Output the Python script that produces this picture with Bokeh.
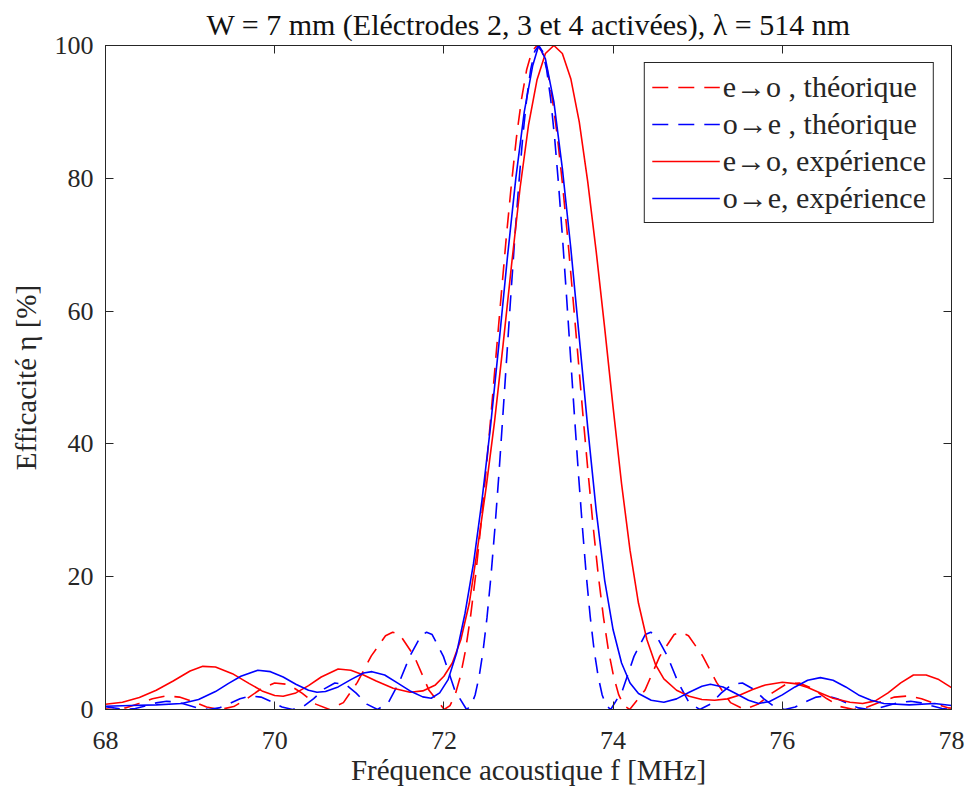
from bokeh.plotting import figure
from bokeh.models import Legend, LegendItem, LinearAxis, FixedTicker, Range1d, CustomJSTickFormatter
from bokeh.embed import file_html
from bokeh.resources import INLINE

FONT = "Liberation Serif"
AX = "#262626"

x_ticks = [68, 70, 72, 74, 76, 78]
y_ticks = [0, 20, 40, 60, 80, 100]

title_text = "W = 7 mm (El\u00e9ctrodes 2, 3 et 4 activ\u00e9es), \u03bb = 514 nm"
x_label = "Fr\u00e9quence acoustique f [MHz]"
y_label = "Efficacit\u00e9 \u03b7 [%]"

# e->o theoretical (red dashed)
red_th_f = [67.916, 68.076, 68.235, 68.395, 68.555, 68.714, 68.874, 69.034, 69.195, 69.355,
            69.516, 69.676, 69.837, 69.999, 70.161, 70.323, 70.485, 70.648, 70.812, 70.977,
            71.142, 71.310, 71.394, 71.478, 71.650, 71.824, 72.004, 72.072, 72.133, 72.193,
            72.254, 72.314, 72.375, 72.435, 72.496, 72.556, 72.616, 72.677, 72.737, 72.798,
            72.858, 72.919, 72.979, 73.040, 73.100, 73.160, 73.221, 73.281, 73.342, 73.402,
            73.463, 73.523, 73.584, 73.644, 73.705, 73.765, 73.825, 73.886, 73.946, 74.007,
            74.067, 74.128, 74.196, 74.376, 74.551, 74.722, 74.806, 74.891, 75.058, 75.223,
            75.388, 75.552, 75.715, 75.877, 76.040, 76.201, 76.363, 76.524, 76.685, 76.845,
            77.006, 77.166, 77.326, 77.486, 77.646, 77.805, 77.965, 78.125]
red_th_eta = [0.22, 0.0, 0.24, 0.89, 1.62, 2.04, 1.87, 1.18, 0.37, 0.0,
              0.44, 1.65, 3.10, 4.00, 3.78, 2.47, 0.81, 0.0, 1.04, 4.08,
              8.08, 11.11, 11.64, 11.29, 8.00, 2.89, 0.0, 0.59, 2.19, 4.92,
              8.81, 13.91, 20.20, 27.47, 35.57, 44.28, 53.30, 62.34, 71.05, 79.11,
              86.21, 92.05, 96.40, 99.09, 100.0, 99.09, 96.40, 92.05, 86.21, 79.11,
              71.05, 62.34, 53.30, 44.28, 35.57, 27.47, 20.20, 13.91, 8.81, 4.92,
              2.19, 0.59, 0.0, 2.89, 8.00, 11.29, 11.64, 11.11, 8.08, 4.08,
              1.04, 0.0, 0.81, 2.47, 3.78, 4.00, 3.10, 1.65, 0.44, 0.0,
              0.37, 1.18, 1.87, 2.04, 1.62, 0.89, 0.24, 0.0]

# o->e theoretical (blue dashed)
blue_th_f = [67.981, 68.228, 68.352, 68.475, 68.599, 68.723, 68.846, 68.970, 69.094, 69.218,
             69.342, 69.466, 69.590, 69.714, 69.838, 69.962, 70.087, 70.211, 70.336, 70.461,
             70.586, 70.711, 70.837, 70.963, 71.089, 71.216, 71.343, 71.471, 71.600, 71.729,
             71.795, 71.861, 71.994, 72.129, 72.268, 72.322, 72.369, 72.416, 72.463, 72.510,
             72.557, 72.604, 72.651, 72.697, 72.744, 72.791, 72.838, 72.885, 72.932, 72.979,
             73.026, 73.073, 73.120, 73.167, 73.214, 73.261, 73.308, 73.355, 73.402, 73.449,
             73.496, 73.543, 73.590, 73.637, 73.683, 73.730, 73.777, 73.824, 73.871, 73.918,
             73.972, 74.111, 74.247, 74.380, 74.445, 74.511, 74.640, 74.769, 74.897, 75.024,
             75.151, 75.277, 75.403, 75.529, 75.654, 75.779, 75.904, 76.029, 76.153, 76.278,
             76.402, 76.526, 76.650, 76.775, 76.899, 77.022, 77.146, 77.270, 77.394, 77.518,
             77.641, 77.765, 77.888, 78.012]
blue_th_eta = [0.45, 0.0, 0.15, 0.55, 1.00, 1.23, 1.11, 0.69, 0.22, 0.0,
               0.24, 0.89, 1.62, 2.04, 1.87, 1.18, 0.37, 0.0, 0.44, 1.65,
               3.10, 4.00, 3.78, 2.47, 0.81, 0.0, 1.04, 4.08, 8.08, 11.11,
               11.64, 11.29, 8.00, 2.89, 0.0, 0.59, 2.19, 4.92, 8.81, 13.91,
               20.20, 27.47, 35.57, 44.28, 53.30, 62.34, 71.05, 79.11, 86.21, 92.05,
               96.40, 99.09, 100.0, 99.09, 96.40, 92.05, 86.21, 79.11, 71.05, 62.34,
               53.30, 44.28, 35.57, 27.47, 20.20, 13.91, 8.81, 4.92, 2.19, 0.59,
               0.0, 2.89, 8.00, 11.29, 11.64, 11.11, 8.08, 4.08, 1.04, 0.0,
               0.81, 2.47, 3.78, 4.00, 3.10, 1.65, 0.44, 0.0, 0.37, 1.18,
               1.87, 2.04, 1.62, 0.89, 0.24, 0.0, 0.22, 0.69, 1.11, 1.23,
               1.00, 0.55, 0.15, 0.0]

# e->o experiment (red solid)
red_ex_f = [68.0, 68.2, 68.4, 68.6, 68.8, 69.0, 69.15, 69.3, 69.5, 69.7,
            69.85, 70.0, 70.1, 70.25, 70.4, 70.55, 70.75, 70.9, 71.05, 71.2,
            71.4, 71.6, 71.75, 71.9, 72.0, 72.1, 72.2, 72.3, 72.4, 72.5,
            72.6, 72.7, 72.8, 72.9, 73.0, 73.1, 73.2, 73.3, 73.4, 73.5,
            73.6, 73.7, 73.8, 73.9, 74.0, 74.1, 74.2, 74.3, 74.4, 74.5,
            74.6, 74.75, 74.9, 75.05, 75.2, 75.35, 75.5, 75.65, 75.8, 76.0,
            76.15, 76.3, 76.45, 76.6, 76.8, 76.95, 77.1, 77.25, 77.4, 77.55,
            77.7, 77.85, 78.0]
red_ex_eta = [0.8, 1.1, 1.8, 2.9, 4.3, 5.8, 6.5, 6.4, 5.4, 3.9,
              2.8, 2.1, 2.0, 2.5, 3.6, 4.9, 6.1, 5.9, 5.2, 4.3,
              3.2, 2.6, 2.8, 3.7, 5.0, 7.0, 10.5, 16.0, 24.5, 33.5,
              43.5, 55.0, 67.0, 78.5, 88.0, 94.8, 98.8, 100.0, 98.8, 95.0,
              88.5, 79.5, 69.0, 57.5, 45.5, 34.0, 24.0, 16.0, 10.5, 6.8,
              4.6, 2.9, 2.0, 1.5, 1.4, 1.6, 2.2, 3.0, 3.7, 4.1,
              3.9, 3.3, 2.5, 1.7, 1.1, 0.9, 1.3, 2.5, 4.0, 5.2,
              5.2, 4.5, 3.3]

# o->e experiment (blue solid)
blue_ex_f = [68.0, 68.3, 68.6, 68.9, 69.1, 69.3, 69.45, 69.6, 69.8, 69.95,
             70.1, 70.25, 70.4, 70.5, 70.6, 70.75, 70.9, 71.05, 71.15, 71.3,
             71.45, 71.6, 71.75, 71.85, 71.95, 72.05, 72.15, 72.25, 72.35, 72.45,
             72.55, 72.65, 72.75, 72.85, 72.95, 73.05, 73.12, 73.2, 73.3, 73.4,
             73.5, 73.6, 73.7, 73.8, 73.9, 74.0, 74.1, 74.2, 74.3, 74.45,
             74.6, 74.75, 74.9, 75.05, 75.15, 75.3, 75.45, 75.6, 75.72, 75.85,
             76.0, 76.15, 76.3, 76.45, 76.6, 76.75, 76.9, 77.05, 77.2, 77.5,
             77.8, 78.0]
blue_ex_eta = [0.5, 0.6, 0.7, 0.9, 1.5, 2.7, 3.9, 5.0, 5.9, 5.7,
               4.9, 3.8, 2.9, 2.6, 2.7, 3.4, 4.5, 5.5, 5.7, 5.2,
               4.0, 2.8, 1.9, 1.7, 2.5, 4.5, 8.5, 14.5, 22.0, 31.5,
               42.5, 55.0, 68.0, 80.0, 90.0, 97.0, 100.0, 98.0, 91.5, 81.5,
               69.5, 56.0, 42.5, 30.0, 19.5, 12.0, 7.0, 4.0, 2.4, 1.4,
               1.1, 1.6, 2.6, 3.5, 3.8, 3.4, 2.4, 1.4, 0.9, 1.2,
               2.2, 3.4, 4.4, 4.8, 4.4, 3.4, 2.2, 1.4, 0.9, 0.7,
               0.9, 0.6]

legend_labels = ["e\u2192o , th\u00e9orique", "o\u2192e , th\u00e9orique",
                 "e\u2192o, exp\u00e9rience", "o\u2192e, exp\u00e9rience"]

p = figure(frame_width=846, frame_height=664,
           min_border_left=105, min_border_right=20, min_border_top=45, min_border_bottom=89,
           x_range=Range1d(68, 78), y_range=Range1d(0, 100),
           output_backend="svg", toolbar_location=None, tools="")
p.xgrid.visible = False
p.ygrid.visible = False
p.background_fill_color = "white"
p.border_fill_color = "white"
p.outline_line_color = AX
p.outline_line_width = 1
p.outline_line_alpha = 1

p.title.text = title_text
p.title.align = "center"
p.title.text_font = FONT
p.title.text_font_size = "30px"
p.title.text_font_style = "normal"
p.title.text_color = "#111111"
p.title.standoff = 10

def style_axis(ax, ticks):
    ax.ticker = FixedTicker(ticks=ticks)
    ax.axis_line_color = AX
    ax.axis_line_width = 1
    ax.major_tick_in = 8
    ax.major_tick_out = 0
    ax.major_tick_line_color = AX
    ax.minor_tick_line_color = None
    ax.major_label_text_font = FONT
    ax.major_label_text_font_size = "26px"
    ax.major_label_text_color = AX
    ax.axis_label_text_font = FONT
    ax.axis_label_text_font_size = "29px"
    ax.axis_label_text_font_style = "normal"
    ax.axis_label_text_color = AX

style_axis(p.xaxis[0], x_ticks)
style_axis(p.yaxis[0], y_ticks)
p.xaxis[0].major_label_standoff = 22
p.yaxis[0].major_label_standoff = 12
p.xaxis[0].axis_label = x_label
p.xaxis[0].axis_label_standoff = 2
p.yaxis[0].axis_label = y_label
p.yaxis[0].axis_label_standoff = 10

for side, ticks in (("above", x_ticks), ("right", y_ticks)):
    ax = LinearAxis()
    style_axis(ax, ticks)
    ax.formatter = CustomJSTickFormatter(code="return ''")
    ax.major_label_text_font_size = "0px"
    ax.major_label_standoff = 0
    p.add_layout(ax, side)

r1 = p.line(red_th_f, red_th_eta, line_color="#ff0000", line_width=1.6, line_dash="16 10")
r2 = p.line(blue_th_f, blue_th_eta, line_color="#0000ff", line_width=1.6, line_dash="16 10")
r3 = p.line(red_ex_f, red_ex_eta, line_color="#ff0000", line_width=1.6)
r4 = p.line(blue_ex_f, blue_ex_eta, line_color="#0000ff", line_width=1.6)

legend = Legend(items=[LegendItem(label=legend_labels[i], renderers=[r]) for i, r in enumerate([r1, r2, r3, r4])],
                location="top_right")
legend.label_text_font = FONT
legend.label_text_font_size = "30px"
legend.label_text_color = AX
legend.glyph_width = 68
legend.glyph_height = 30
legend.label_height = 30
legend.spacing = 3
legend.padding = 7
legend.label_standoff = 3
legend.margin = 17
legend.border_line_color = AX
legend.border_line_width = 1
legend.border_line_alpha = 1
legend.background_fill_alpha = 1
p.add_layout(legend, "center")

open("out.html", "w").write(file_html(p, INLINE))
